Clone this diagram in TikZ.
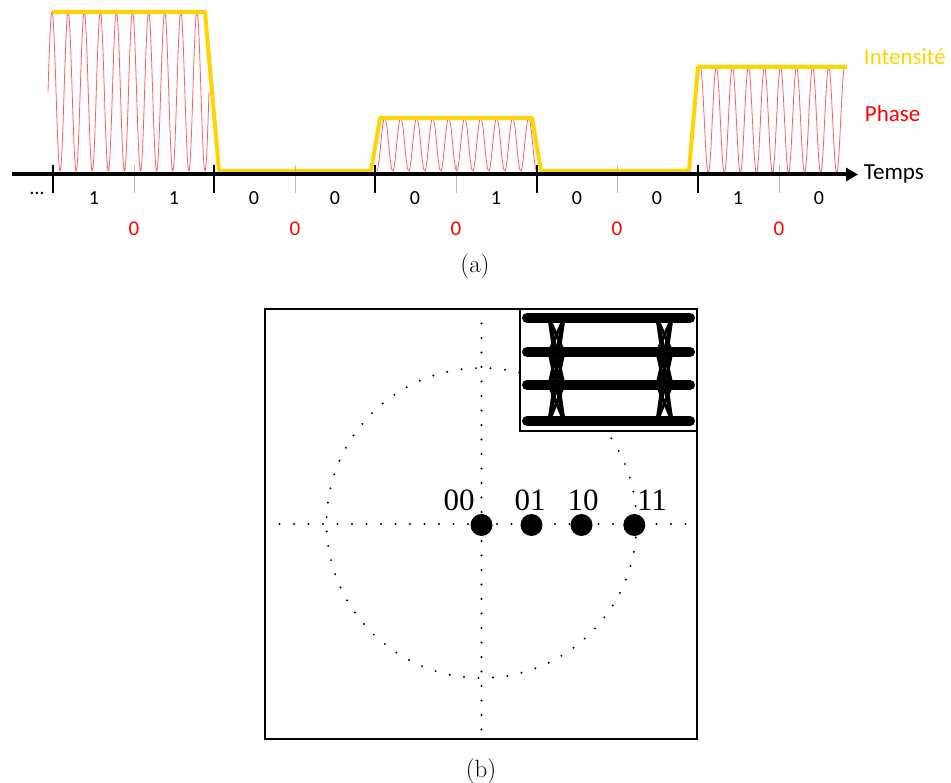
\documentclass[tikz,border=0pt]{standalone}
\usepackage{fontspec}
\usepackage{tikz}
\usetikzlibrary{arrows.meta}
\newfontfamily\calib{Carlito}
\newfontfamily\tms{Liberation Serif}
\definecolor{intens}{RGB}{255,212,0}
\definecolor{phas}{RGB}{255,0,0}
\definecolor{onde}{RGB}{255,95,95}
\definecolor{tickgris}{RGB}{185,185,185}

\begin{document}
\begin{tikzpicture}[x=1pt,y=1pt,yscale=-1,
  bit/.style={inner sep=0.75pt, font=\calib\fontsize{20}{20}\selectfont},
  phasebit/.style={inner sep=0.75pt, text=phas, font=\calib\fontsize{21}{21}\selectfont},
  legend/.style={anchor=west, inner sep=0.75pt, font=\calib\fontsize{23}{23}\selectfont},
  symb/.style={inner sep=0.75pt, font=\tms\fontsize{31}{31}\selectfont},
  caption/.style={inner sep=0.75pt, font=\fontsize{25}{25}\selectfont},
  dotline/.style={line width=2.2pt, line cap=round, dash pattern=on 0pt off 14.5pt},
  wave/.style={onde, line width=0.8pt}]
\useasboundingbox (0,0) rectangle (951,783);

%Red carrier, one burst per symbol
\draw[wave] plot[domain=48:209, samples=500] (\x,{91.5-79.5*sin(22.36*(\x-48))});
\draw[wave] plot[domain=376.7:536.7, samples=500] (\x,{144.5+26.5*cos(22.5*(\x-376.7))});
\draw[wave] plot[domain=700:844.7, samples=500] (\x,{120+53*cos(22.43*(\x-708.3))});

%Intensity envelope
\draw[intens, line width=4pt, line join=round] (52,12) -- (205,12) -- (219,171) -- (371,171) -- (380,118) -- (532,118) -- (541,171) -- (689,171) -- (698,67) -- (847,67);

%Half-symbol ticks
\foreach \x in {134,295,456,617,779}
  \draw[tickgris, line width=1pt] (\x,165) -- (\x,193);
%Time axis
\draw[line width=4pt, -{Triangle[length=12pt,width=13pt]}] (12,174.5) -- (858,174.5);
%Symbol ticks
\foreach \x in {53,214,375,537,698}
  \draw[line width=2pt] (\x,165) -- (\x,193);

% Text Node
\node (temps) [legend] at (863,174) {Temps};
\node (intensite) [legend, text=intens] at (863,57) {Intensité};
\node (phase) [legend, text=phas] at (864,114) {Phase};
\node (dots) [bit] at (37,193) {…};
% bits
\foreach \x/\b [count=\i] in {94/1,174/1,254/0,335/0,415/0,496/1,577/0,657/0,738/1,819/0}
  \node (bit\i) [bit] at (\x,198) {\b};
% phases
\foreach \x [count=\i] in {134,295,456,617,779}
  \node (ph\i) [phasebit] at (\x,229) {0};
\node (capa) [caption] at (475,266) {(a)};

%Constellation frame
\draw[line width=1.8pt] (265,309) rectangle (697,739);
%Straight Lines
\draw[dotline] (481.5,309) -- (481.5,739);
\draw[dotline] (265,524) -- (697,524);
%Shape: Circle
\draw[dotline] (481.5,523) circle (155pt);

%Symbols
\fill (481.5,525) circle (11pt) node (s00) {};
\fill (531.5,525) circle (11pt) node (s01) {};
\fill (581.5,525) circle (11pt) node (s10) {};
\fill (634.3,525) circle (11pt) node (s11) {};
% Text Node
\node (l00) [symb] at (459,500) {00};
\node (l01) [symb] at (530,500) {01};
\node (l10) [symb] at (583,500) {10};
\node (l11) [symb] at (652,500) {11};

%Eye diagram inset
\filldraw[fill=white, draw=black, line width=2.5pt] (520,309) rectangle (697,431);
\foreach \y in {318,352,385,421}
  \draw[line width=10pt, line cap=round] (527,\y) -- (690,\y);
\foreach \ya in {318,352,385,421}
  \foreach \yb in {318,352,385,421}
  {
    \draw[line width=3pt] (549,\ya) -- (564,\yb);
    \draw[line width=3pt] (657,\ya) -- (672,\yb);
  }

\node (capb) [caption] at (481,771) {(b)};

\end{tikzpicture}
\end{document}
